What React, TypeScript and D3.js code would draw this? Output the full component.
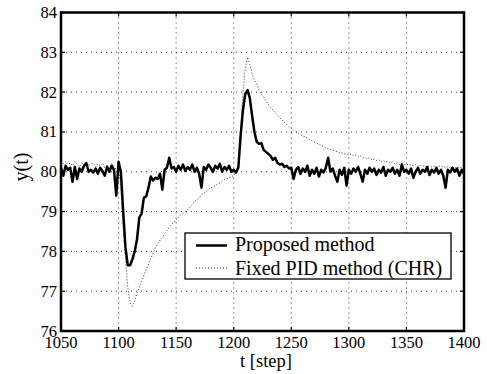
import React from "react";
import * as d3 from "d3";

const T0 = 1050;
const T_STEP = 2;
const X_TICKS = [1050, 1100, 1150, 1200, 1250, 1300, 1350, 1400];
const Y_TICKS = [76, 77, 78, 79, 80, 81, 82, 83, 84];
const SERIES_NAMES = ["Proposed method", "Fixed PID method (CHR)"];

const proposed = [
  80.10, 79.90, 80.15, 80.05, 80.10, 79.75, 80.12, 79.82, 80.08, 80.00,
  80.15, 80.22, 80.00, 80.05, 79.98, 80.08, 79.95, 80.10, 80.02, 79.90,
  80.12, 80.00, 80.15, 80.05, 79.40, 80.25, 80.00, 79.00, 78.10, 77.65,
  77.65, 77.80, 78.00, 78.30, 78.85, 78.95, 79.35, 79.38, 79.60, 79.88,
  79.78, 79.85, 79.82, 79.95, 79.55, 80.05, 80.10, 80.35, 80.08, 80.12,
  80.00, 80.15, 80.05, 80.18, 80.02, 80.12, 80.05, 80.18, 80.00, 80.10,
  79.95, 79.60, 80.12, 80.05, 80.18, 80.10, 80.00, 80.15, 80.08, 80.20,
  80.00, 80.12, 80.05, 80.15, 80.00, 80.05, 79.98, 80.10, 80.90, 81.55,
  81.95, 82.05, 81.85, 81.40, 81.00, 80.75, 80.70, 80.72, 80.55, 80.50,
  80.45, 80.40, 80.30, 80.35, 80.22, 80.18, 80.20, 80.12, 80.15, 80.08,
  80.10, 79.82, 80.05, 80.12, 79.95, 80.08, 80.00, 80.15, 79.90, 80.05,
  79.95, 80.10, 79.88, 80.05, 79.98, 80.10, 80.35, 80.00, 80.08, 79.90,
  79.75, 80.05, 79.92, 80.10, 79.65, 80.05, 79.95, 80.08, 80.00, 80.12,
  79.95, 79.75, 80.05, 79.95, 80.10, 80.00, 80.08, 79.92, 80.05, 79.98,
  80.12, 79.90, 80.05, 80.00, 80.10, 79.95, 80.05, 79.90, 80.18, 80.00,
  80.05, 79.95, 80.08, 79.85, 80.00, 80.10, 79.95, 80.05, 80.00, 80.12,
  79.92, 80.05, 79.98, 80.10, 79.95, 80.05, 79.90, 79.60, 80.05, 79.98,
  80.10, 80.00, 80.08, 79.90, 80.05, 79.95,
];

const fixedPid = [
  80.28, 80.20, 80.25, 80.18, 80.22, 80.15, 80.25, 80.20, 80.12, 80.22,
  80.18, 80.25, 80.15, 80.20, 80.22, 80.12, 80.20, 80.15, 80.22, 80.10,
  80.18, 80.12, 80.20, 80.15, 80.05, 80.10, 79.60, 78.60, 77.80, 77.10,
  76.70, 76.62, 76.75, 76.95, 77.10, 77.25, 77.40, 77.55, 77.68, 77.82,
  77.95, 78.10, 78.18, 78.28, 78.35, 78.45, 78.52, 78.60, 78.68, 78.72,
  78.80, 78.85, 78.92, 78.95, 79.00, 79.05, 79.12, 79.18, 79.25, 79.30,
  79.35, 79.42, 79.45, 79.50, 79.55, 79.60, 79.62, 79.65, 79.70, 79.72,
  79.76, 79.80, 79.82, 79.85, 79.88, 79.90, 80.00, 80.15, 81.00, 82.00,
  82.60, 82.88, 82.70, 82.45, 82.30, 82.20, 82.05, 81.95, 81.88, 81.78,
  81.70, 81.62, 81.55, 81.48, 81.42, 81.36, 81.30, 81.24, 81.18, 81.13,
  81.10, 81.05, 81.00, 80.96, 80.93, 80.90, 80.88, 80.84, 80.80, 80.78,
  80.74, 80.72, 80.70, 80.66, 80.64, 80.60, 80.58, 80.56, 80.55, 80.52,
  80.50, 80.48, 80.47, 80.45, 80.44, 80.42, 80.45, 80.40, 80.42, 80.38,
  80.40, 80.35, 80.36, 80.33, 80.35, 80.30, 80.32, 80.28, 80.30, 80.25,
  80.28, 80.24, 80.26, 80.22, 80.25, 80.20, 80.22, 80.18, 80.20, 80.17,
  80.20, 80.16, 80.18, 80.15, 80.18, 80.14, 80.16, 80.13, 80.16, 80.12,
  80.15, 80.12, 80.14, 80.11, 80.15, 80.12, 80.14, 80.10, 80.13, 80.10,
  80.12, 80.09, 80.12, 80.10, 80.11, 80.10,
];

const W = 487;
const H = 374;
const M = { left: 61, right: 464, top: 12.5, bottom: 331 };
const FONT = "'Liberation Serif', 'Times New Roman', serif";

export default function App() {
  const x = d3.scaleLinear().domain([1050, 1400]).range([M.left, M.right]);
  const y = d3.scaleLinear().domain([76, 84]).range([M.bottom, M.top]);
  const line = d3
    .line<number>()
    .x((_, i) => x(T0 + i * T_STEP))
    .y((v) => y(v));

  return (
    <svg
      width={W}
      height={H}
      style={{ position: "absolute", left: 0, top: 0, background: "#fff", fontFamily: FONT }}
    >
      <rect x={0} y={0} width={W} height={H} fill="#fff" />
      {/* grid */}
      {X_TICKS.slice(1, -1).map((t) => (
        <line
          key={"gx" + t}
          x1={x(t)}
          x2={x(t)}
          y1={M.top}
          y2={M.bottom}
          stroke="#000"
          strokeWidth={0.8}
          strokeDasharray="1,4"
        />
      ))}
      {Y_TICKS.slice(1, -1).map((v) => (
        <line
          key={"gy" + v}
          x1={M.left}
          x2={M.right}
          y1={y(v)}
          y2={y(v)}
          stroke="#000"
          strokeWidth={0.8}
          strokeDasharray="1,4"
        />
      ))}
      {/* ticks */}
      {X_TICKS.map((t) => (
        <g key={"tx" + t}>
          <line x1={x(t)} x2={x(t)} y1={M.bottom} y2={M.bottom - 4} stroke="#000" strokeWidth={1.2} />
          <line x1={x(t)} x2={x(t)} y1={M.top} y2={M.top + 4} stroke="#000" strokeWidth={1.2} />
          <text x={x(t)} y={348} fontSize={16.5} textAnchor="middle" fill="#000">
            {t}
          </text>
        </g>
      ))}
      {Y_TICKS.map((v) => (
        <g key={"ty" + v}>
          <line x1={M.left} x2={M.left + 4} y1={y(v)} y2={y(v)} stroke="#000" strokeWidth={1.2} />
          <line x1={M.right} x2={M.right - 4} y1={y(v)} y2={y(v)} stroke="#000" strokeWidth={1.2} />
          <text x={57} y={y(v) + 5.5} fontSize={16.5} textAnchor="end" fill="#000">
            {v}
          </text>
        </g>
      ))}
      {/* series */}
      <path
        d={line(fixedPid) || ""}
        fill="none"
        stroke="#333"
        strokeWidth={1}
        strokeDasharray="1,2"
      />
      <path
        d={line(proposed) || ""}
        fill="none"
        stroke="#000"
        strokeWidth={2.5}
        strokeLinejoin="round"
      />
      {/* frame */}
      <rect
        x={M.left}
        y={M.top}
        width={M.right - M.left}
        height={M.bottom - M.top}
        fill="none"
        stroke="#000"
        strokeWidth={2.5}
      />
      {/* legend */}
      <rect x={185} y={233} width={266} height={46} fill="#fff" stroke="#000" strokeWidth={1.3} />
      <line x1={196} x2={227} y1={245.5} y2={245.5} stroke="#000" strokeWidth={2.5} />
      <line x1={196} x2={227} y1={268} y2={268} stroke="#333" strokeWidth={1} strokeDasharray="1,2" />
      <text x={235} y={251} fontSize={20} fill="#000">
        {SERIES_NAMES[0]}
      </text>
      <text x={235} y={274.5} fontSize={20} fill="#000">
        {SERIES_NAMES[1]}
      </text>
      {/* axis labels */}
      <text x={266} y={366.5} fontSize={18.5} textAnchor="middle" fill="#000">
        t [step]
      </text>
      <text
        transform={`translate(28,167) rotate(-90)`}
        fontSize={20}
        textAnchor="middle"
        fill="#000"
      >
        y(t)
      </text>
    </svg>
  );
}
